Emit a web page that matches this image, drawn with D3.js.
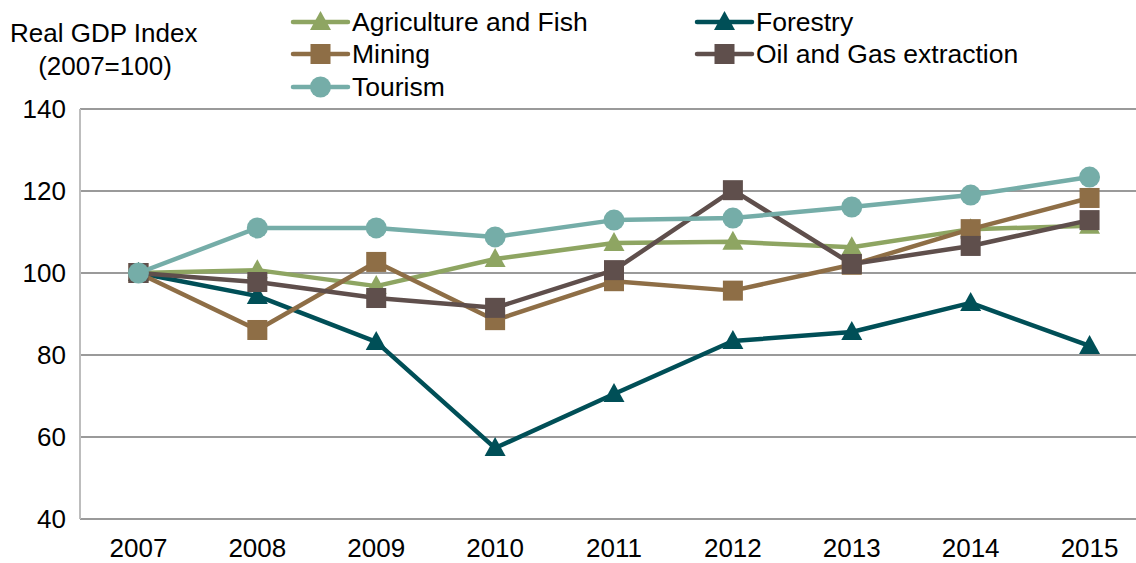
<!DOCTYPE html>
<html lang="en">
  <head>
    <meta charset="UTF-8" />
    <title>Real GDP Index</title>
    <script src="https://cdn.jsdelivr.net/npm/d3@7"></script>
    <style>
      body { margin: 0; background: #fff; }
      text { font-family: "Liberation Sans", Arial, sans-serif; fill: #000; }
    </style>
  </head>
  <body>
    <script>
      var years = ["2007", "2008", "2009", "2010", "2011", "2012", "2013", "2014", "2015"];
      var yTicks = [40, 60, 80, 100, 120, 140];

      var agriculture = [100, 100.7, 96.8, 103.4, 107.3, 107.6, 106.3, 110.7, 111.5];
      var forestry = [100, 94.4, 83.2, 57.3, 70.5, 83.4, 85.6, 92.7, 82.2];
      var mining = [100, 86.1, 102.7, 88.5, 98.0, 95.7, 102.0, 110.7, 118.3];
      var oilGas = [100, 97.8, 93.9, 91.5, 100.7, 120.2, 102.2, 106.6, 112.9];
      var tourism = [100, 111, 111, 108.8, 112.9, 113.4, 116.1, 119.0, 123.4];

      var series = [
        { name: "Agriculture and Fish", values: agriculture, color: "#8ea562", marker: "triangle" },
        { name: "Forestry", values: forestry, color: "#004f57", marker: "triangle" },
        { name: "Mining", values: mining, color: "#8e6e46", marker: "square" },
        { name: "Oil and Gas extraction", values: oilGas, color: "#5f4f4c", marker: "square" },
        { name: "Tourism", values: tourism, color: "#75ada8", marker: "circle" }
      ];

      var width = 1136, height = 563;
      var svg = d3.select("body").append("svg")
        .attr("width", width)
        .attr("height", height);

      var x = d3.scalePoint()
        .domain(years)
        .range([79, 1149])
        .padding(0.5);

      var y = d3.scaleLinear()
        .domain([40, 140])
        .range([519, 109]);

      // gridlines
      svg.append("g")
        .selectAll("line")
        .data(yTicks)
        .enter()
        .append("line")
        .attr("x1", 80)
        .attr("x2", width)
        .attr("y1", function (d) { return y(d); })
        .attr("y2", function (d) { return y(d); })
        .attr("stroke", "#9a9a9a")
        .attr("stroke-width", 2);

      svg.append("line")
        .attr("x1", 80).attr("x2", 80)
        .attr("y1", y(140)).attr("y2", y(40))
        .attr("stroke", "#bdbdbd")
        .attr("stroke-width", 2);

      // y tick labels
      svg.append("g")
        .selectAll("text")
        .data(yTicks)
        .enter()
        .append("text")
        .attr("x", 66)
        .attr("y", function (d) { return y(d); })
        .attr("dy", "0.35em")
        .attr("text-anchor", "end")
        .attr("font-size", 26)
        .text(function (d) { return d; });

      // x tick labels
      svg.append("g")
        .selectAll("text")
        .data(years)
        .enter()
        .append("text")
        .attr("x", function (d) { return x(d); })
        .attr("y", 557)
        .attr("text-anchor", "middle")
        .attr("font-size", 26)
        .text(function (d) { return d; });

      // axis title
      svg.append("text")
        .attr("x", 10).attr("y", 33).attr("dy", "0.35em")
        .attr("font-size", 26)
        .text("Real GDP Index");
      svg.append("text")
        .attr("x", 105).attr("y", 66).attr("dy", "0.35em")
        .attr("text-anchor", "middle")
        .attr("font-size", 26)
        .text("(2007=100)");

      function drawMarker(g, type, color, cx, cy) {
        if (type === "square") {
          g.append("rect")
            .attr("x", cx - 10).attr("y", cy - 10)
            .attr("width", 20).attr("height", 20)
            .attr("fill", color);
        } else if (type === "circle") {
          g.append("circle")
            .attr("cx", cx).attr("cy", cy).attr("r", 10.5)
            .attr("fill", color);
        } else {
          g.append("path")
            .attr("d", "M" + cx + "," + (cy - 11) + "L" + (cx + 10.5) + "," + (cy + 8) + "L" + (cx - 10.5) + "," + (cy + 8) + "Z")
            .attr("fill", color);
        }
      }

      var line = d3.line()
        .x(function (d, i) { return x(years[i]); })
        .y(function (d) { return y(d); });

      series.forEach(function (s) {
        var g = svg.append("g");
        g.append("path")
          .datum(s.values)
          .attr("d", line)
          .attr("fill", "none")
          .attr("stroke", s.color)
          .attr("stroke-width", 4.5)
          .attr("stroke-linejoin", "round");
        s.values.forEach(function (v, i) {
          drawMarker(g, s.marker, s.color, x(years[i]), y(v));
        });
      });

      // legend
      var legendPos = [
        [293, 22], [697, 22], [293, 54], [697, 54], [293, 87]
      ];
      series.forEach(function (s, i) {
        var p = legendPos[i];
        var g = svg.append("g");
        g.append("line")
          .attr("x1", p[0]).attr("x2", p[0] + 55)
          .attr("y1", p[1]).attr("y2", p[1])
          .attr("stroke", s.color)
          .attr("stroke-width", 4.5)
          .attr("stroke-linecap", "round");
        drawMarker(g, s.marker, s.color, p[0] + 27.5, p[1]);
        g.append("text")
          .attr("x", p[0] + 59)
          .attr("y", p[1])
          .attr("dy", "0.35em")
          .attr("font-size", 26.5)
          .text(s.name);
      });
    </script>
  </body>
</html>
